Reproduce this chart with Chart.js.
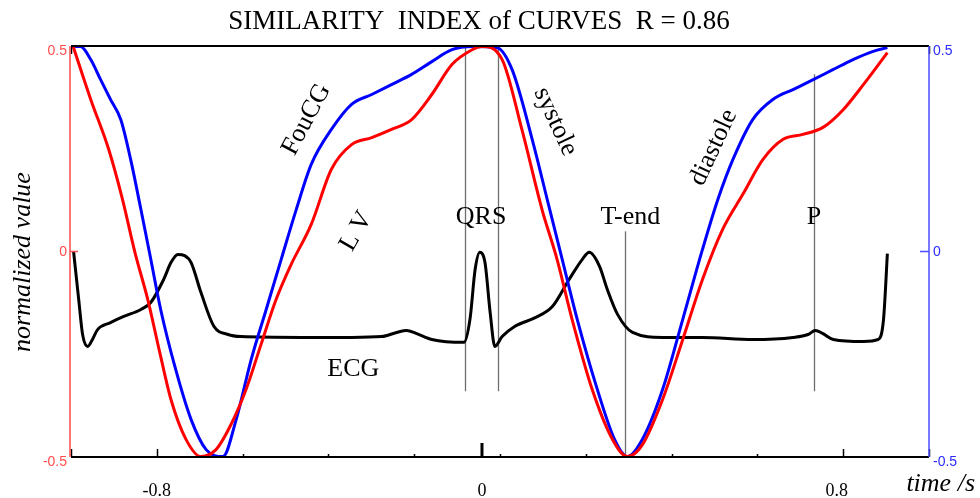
<!DOCTYPE html>
<html>
<head>
<meta charset="utf-8">
<script src="https://cdn.jsdelivr.net/npm/chart.js@4"></script>
<style>
  body { margin: 0; background: #fff; }
  canvas { display: block; }
</style>
</head>
<body>
<canvas id="curves" width="980" height="498"></canvas>
<script>
// ===============================
// SIMILARITY INDEX – LV / FouCG / ECG
// ===============================

// LV (red)
const lvTime = [-0.995, -0.954, -0.912, -0.880, -0.851, -0.821, -0.793, -0.767, -0.732, -0.697, -0.662, -0.627, -0.592, -0.557, -0.522, -0.487, -0.440, -0.393, -0.346, -0.299, -0.253, -0.206, -0.159, -0.112, -0.065, -0.042, 0.005, 0.051, 0.098, 0.133, 0.168, 0.215, 0.262, 0.297, 0.332, 0.379, 0.426, 0.472, 0.519, 0.566, 0.613, 0.660, 0.706, 0.753, 0.800, 0.847, 0.903];
const lvValue = [0.499, 0.370, 0.248, 0.127, -0.002, -0.117, -0.246, -0.360, -0.457, -0.499, -0.482, -0.421, -0.336, -0.226, -0.117, -0.032, 0.066, 0.200, 0.260, 0.277, 0.297, 0.321, 0.382, 0.455, 0.491, 0.499, 0.467, 0.297, 0.102, -0.019, -0.165, -0.336, -0.457, -0.499, -0.470, -0.360, -0.214, -0.068, 0.054, 0.139, 0.224, 0.273, 0.285, 0.302, 0.345, 0.406, 0.484];

// FouCG (blue)
const fcgTime = [-0.996, -0.978, -0.954, -0.931, -0.908, -0.884, -0.861, -0.837, -0.814, -0.791, -0.756, -0.720, -0.685, -0.646, -0.615, -0.580, -0.545, -0.510, -0.475, -0.440, -0.393, -0.346, -0.299, -0.253, -0.206, -0.159, -0.112, -0.065, -0.007, 0.028, 0.075, 0.110, 0.145, 0.180, 0.227, 0.267, 0.297, 0.332, 0.379, 0.426, 0.472, 0.508, 0.543, 0.589, 0.636, 0.683, 0.730, 0.777, 0.823, 0.870, 0.903];
const fcgValue = [0.499, 0.499, 0.467, 0.418, 0.370, 0.321, 0.224, 0.102, -0.019, -0.141, -0.287, -0.409, -0.482, -0.499, -0.409, -0.263, -0.141, -0.019, 0.102, 0.212, 0.297, 0.358, 0.382, 0.406, 0.431, 0.462, 0.491, 0.499, 0.496, 0.443, 0.273, 0.127, -0.019, -0.165, -0.336, -0.457, -0.499, -0.457, -0.336, -0.165, 0.005, 0.127, 0.224, 0.321, 0.370, 0.394, 0.418, 0.443, 0.467, 0.487, 0.496];

// ECG (black)
const ecgTime = [-0.994, -0.982, -0.973, -0.961, -0.950, -0.938, -0.908, -0.877, -0.837, -0.814, -0.784, -0.767, -0.751, -0.735, -0.720, -0.697, -0.667, -0.634, -0.604, -0.463, -0.346, -0.276, -0.241, -0.218, -0.194, -0.159, -0.084, -0.070, -0.058, -0.047, -0.035, -0.023, -0.012, 0.005, 0.035, 0.082, 0.122, 0.161, 0.192, 0.208, 0.232, 0.250, 0.274, 0.309, 0.379, 0.472, 0.589, 0.683, 0.718, 0.735, 0.753, 0.777, 0.847, 0.882, 0.894, 0.903];
const ecgValue = [0.000, -0.117, -0.202, -0.231, -0.214, -0.190, -0.173, -0.158, -0.141, -0.124, -0.068, -0.027, -0.007, -0.010, -0.027, -0.100, -0.182, -0.202, -0.207, -0.209, -0.209, -0.207, -0.197, -0.192, -0.200, -0.214, -0.221, -0.165, -0.044, -0.002, -0.027, -0.148, -0.231, -0.207, -0.182, -0.161, -0.134, -0.068, -0.019, -0.002, -0.036, -0.092, -0.153, -0.197, -0.209, -0.209, -0.214, -0.209, -0.202, -0.192, -0.200, -0.214, -0.219, -0.214, -0.165, -0.005];

// axes
const timeMin = -1.0;
const timeMax = 1.0;
const xTicks = [-1.0, -0.8, -0.6, -0.4, -0.2, 0.0, 0.2, 0.4, 0.6, 0.8, 1.0];
const xMajorTicks = [-1.0, -0.8, 0.8, 1.0];
const xTickLabels = ['-0.8', '0', '0.8'];
const xTickLabelAt = [-0.8, -0.042, 0.785];
const yTicks = [0.5, 0, -0.5];
const yTickLabels = ['0.5', '0', '-0.5'];
const rPeakTime = -0.042;

// vertical marker lines (QRS on/off, T-end, P)
const markerTime = [-0.082, -0.005, 0.292, 0.732];
const markerFrom = [0.5, 0.5, 0.049, 0.431];
const markerTo = [-0.34, -0.34, -0.5, -0.34];

// curve names drawn on the plot
const notes = [
    { text: 'FouCG', t: -0.451, v: 0.321, angle: -62 },
    { text: 'L V', t: -0.335, v: 0.049, angle: -60 },
    { text: 'QRS', t: -0.044, v: 0.083, angle: 0 },
    { text: 'systole', t: 0.129, v: 0.316, angle: 65 },
    { text: 'T-end', t: 0.304, v: 0.083, angle: 0 },
    { text: 'diastole', t: 0.498, v: 0.253, angle: -65 },
    { text: 'P', t: 0.732, v: 0.083, angle: 0 },
    { text: 'ECG', t: -0.342, v: -0.287, angle: 0 }
];

const zip = (xs, ys) => xs.map((x, i) => ({ x: x, y: ys[i] }));
const SERIF = '"Liberation Serif", "Times New Roman", serif';
const SANS = '"Liberation Sans", Arial, sans-serif';

const framePlugin = {
    id: 'frame',
    beforeDatasetsDraw(chart) {
        const { ctx, chartArea: a, scales: { x, y } } = chart;
        ctx.save();
        // marker lines
        ctx.strokeStyle = '#6e6e6e';
        ctx.lineWidth = 1.3;
        markerTime.forEach((t, i) => {
            const px = Math.round(x.getPixelForValue(t)) + 0.5;
            ctx.beginPath();
            ctx.moveTo(px, y.getPixelForValue(markerFrom[i]));
            ctx.lineTo(px, y.getPixelForValue(markerTo[i]));
            ctx.stroke();
        });
        ctx.restore();
    },
    afterDatasetsDraw(chart) {
        const { ctx, chartArea: a, scales: { x, y } } = chart;
        ctx.save();

        // top + bottom frame
        ctx.strokeStyle = '#000';
        ctx.lineWidth = 2;
        ctx.beginPath();
        ctx.moveTo(a.left, a.top); ctx.lineTo(a.right, a.top);
        ctx.moveTo(a.left, a.bottom); ctx.lineTo(a.right, a.bottom);
        ctx.stroke();

        // bottom ticks
        ctx.lineWidth = 1.5;
        xTicks.forEach(t => {
            const px = Math.round(x.getPixelForValue(t)) + 0.5;
            const len = xMajorTicks.includes(t) ? 8 : 3;
            ctx.beginPath();
            ctx.moveTo(px, a.bottom); ctx.lineTo(px, a.bottom - len);
            ctx.stroke();
        });
        // top corner ticks
        [timeMin, timeMax].forEach(t => {
            const px = Math.round(x.getPixelForValue(t)) + 0.5;
            ctx.beginPath();
            ctx.moveTo(px, a.top); ctx.lineTo(px, a.top + 8);
            ctx.stroke();
        });
        // R-peak mark
        ctx.lineWidth = 3;
        const rx = x.getPixelForValue(rPeakTime);
        ctx.beginPath();
        ctx.moveTo(rx, a.bottom); ctx.lineTo(rx, a.bottom - 14);
        ctx.stroke();

        // left (red) and right (blue) axes
        const y0 = y.getPixelForValue(0);
        ctx.lineWidth = 1.5;
        ctx.strokeStyle = '#ff4d4d';
        ctx.beginPath();
        ctx.moveTo(a.left - 1, a.top); ctx.lineTo(a.left - 1, a.bottom);
        ctx.moveTo(a.left - 1, y0); ctx.lineTo(a.left + 7, y0);
        ctx.stroke();
        ctx.strokeStyle = '#4d4dff';
        ctx.beginPath();
        ctx.moveTo(a.right, a.top); ctx.lineTo(a.right, a.bottom);
        ctx.moveTo(a.right - 9, y0); ctx.lineTo(a.right, y0);
        ctx.stroke();

        // y tick labels
        ctx.font = '14px ' + SANS;
        ctx.textBaseline = 'middle';
        yTicks.forEach((v, i) => {
            const py = y.getPixelForValue(v) + (v === 0 ? 1 : 5);
            ctx.fillStyle = '#ff4d4d';
            ctx.textAlign = 'right';
            ctx.fillText(yTickLabels[i], a.left - 4, py);
            ctx.fillStyle = '#2b2bff';
            ctx.textAlign = 'left';
            ctx.fillText(yTickLabels[i], a.right + 4, py);
        });

        // x tick labels
        ctx.fillStyle = '#000';
        ctx.font = '18px ' + SERIF;
        ctx.textAlign = 'center';
        xTickLabels.forEach((lab, i) => {
            ctx.fillText(lab, x.getPixelForValue(xTickLabelAt[i]), 491);
        });

        // axis titles
        ctx.font = 'italic 26px ' + SERIF;
        ctx.textAlign = 'right';
        ctx.fillText('time /s', 975, 484);
        ctx.save();
        ctx.translate(23, 262);
        ctx.rotate(-Math.PI / 2);
        ctx.textAlign = 'center';
        ctx.fillText('normalized value', 0, 0);
        ctx.restore();

        // title
        ctx.font = '27px ' + SERIF;
        ctx.textAlign = 'center';
        ctx.fillText('SIMILARITY  INDEX of CURVES  R = 0.86', 479, 22);

        // annotations
        ctx.font = '26px ' + SERIF;
        notes.forEach(n => {
            ctx.save();
            ctx.translate(x.getPixelForValue(n.t), y.getPixelForValue(n.v));
            ctx.rotate(n.angle * Math.PI / 180);
            ctx.fillText(n.text, 0, 0);
            ctx.restore();
        });

        ctx.restore();
    }
};

new Chart(document.getElementById('curves').getContext('2d'), {
    type: 'line',
    data: {
        datasets: [
            { label: 'LV', data: zip(lvTime, lvValue), borderColor: '#ff0000' },
            { label: 'FouCG', data: zip(fcgTime, fcgValue), borderColor: '#0000ff' },
            { label: 'ECG', data: zip(ecgTime, ecgValue), borderColor: '#000000' }
        ]
    },
    options: {
        responsive: false,
        animation: false,
        devicePixelRatio: 1,
        layout: { padding: { left: 71, right: 51, top: 46, bottom: 41 } },
        elements: {
            line: { borderWidth: 3, cubicInterpolationMode: 'monotone', fill: false },
            point: { radius: 0 }
        },
        plugins: {
            legend: { display: false },
            tooltip: { enabled: false }
        },
        scales: {
            x: { type: 'linear', min: timeMin, max: timeMax, display: false },
            y: { min: -0.5, max: 0.5, display: false }
        }
    },
    plugins: [framePlugin]
});
</script>
</body>
</html>
